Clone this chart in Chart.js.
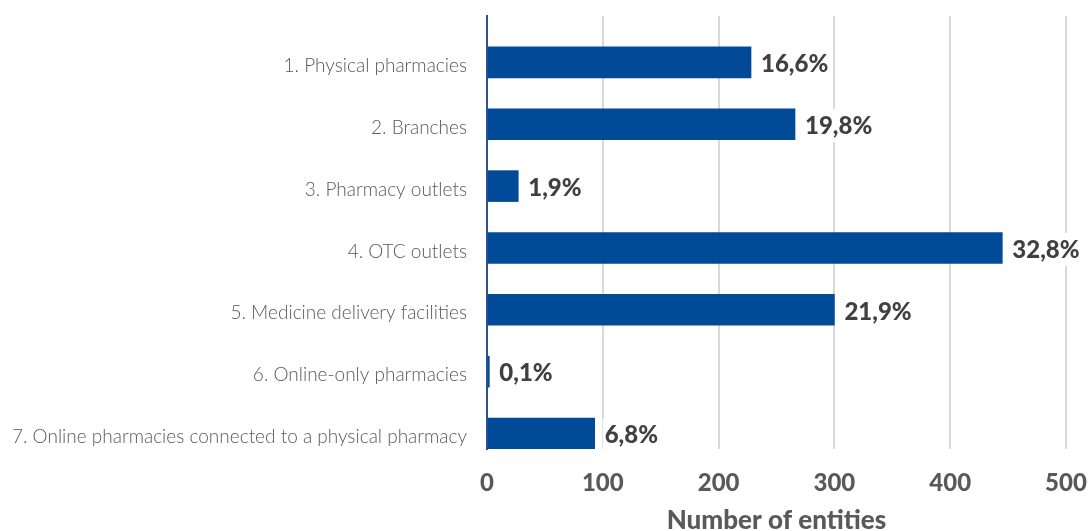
<!DOCTYPE html>
<html>
<head>
<meta charset="utf-8">
<script src="https://cdn.jsdelivr.net/npm/chart.js@4"></script>
<style>
  html, body { margin: 0; padding: 0; background: #fff; }
  #wrap { width: 1091px; height: 531px; }
</style>
</head>
<body>
<div id="wrap"><canvas id="chart"></canvas></div>
<script>
'use strict';

// categories and values
const categories = [
    '1. Physical pharmacies',
    '2. Branches',
    '3. Pharmacy outlets',
    '4. OTC outlets',
    '5. Medicine delivery facilities',
    '6. Online-only pharmacies',
    '7. Online pharmacies connected to a physical pharmacy'
];
const entities = [228, 266, 27, 445, 300, 2, 93];
const shares = ['16,6%', '19,8%', '1,9%', '32,8%', '21,9%', '0,1%', '6,8%'];
const xTicks = [0, 100, 200, 300, 400, 500];

const barColor = '#004a98';

// draws the share label to the right of each bar, on a white box
const shareLabels = {
    id: 'shareLabels',
    afterDatasetsDraw(chart) {
        const ctx = chart.ctx;
        const meta = chart.getDatasetMeta(1);
        ctx.save();
        ctx.font = '900 24px Lato';
        ctx.textBaseline = 'middle';
        ctx.textAlign = 'left';
        meta.data.forEach((bar, i) => {
            const txt = shares[i];
            const x = bar.x + 10;
            const w = ctx.measureText(txt).width;
            ctx.fillStyle = '#fff';
            ctx.fillRect(x - 2, bar.y - 15, w + 6, 33);
            ctx.fillStyle = '#404040';
            ctx.fillText(txt, x, bar.y + 2);
        });
        ctx.restore();
    }
};

new Chart(document.getElementById('chart'), {
    type: 'bar',
    data: {
        labels: categories,
        datasets: [
            { label: '', data: categories.map(() => null), backgroundColor: barColor },
            { label: 'Number of entities', data: entities, backgroundColor: barColor }
        ]
    },
    options: {
        indexAxis: 'y',
        responsive: true,
        maintainAspectRatio: false,
        animation: false,
        layout: { padding: { top: 16, right: 25, bottom: 0, left: 0 } },
        datasets: { bar: { categoryPercentage: 1, barPercentage: 1 } },
        scales: {
            x: {
                min: 0,
                max: 500,
                afterBuildTicks(scale) {
                    scale.ticks = xTicks.map(v => ({ value: v }));
                },
                afterFit(scale) {
                    scale.height = 82;
                    scale.paddingLeft = 0;
                    scale.paddingRight = 0;
                },
                grid: { color: '#d9d9d9', lineWidth: 2, drawTicks: false },
                border: { display: false },
                ticks: {
                    padding: 20,
                    color: '#595959',
                    font: { family: 'Lato', weight: 900, size: 24 }
                },
                title: {
                    display: true,
                    text: 'Number of entities',
                    color: '#595959',
                    font: { family: 'Lato', weight: 900, size: 26, lineHeight: 0.77 },
                    padding: { top: 0, bottom: 0 }
                }
            },
            y: {
                afterFit(scale) {
                    scale.width = 487;
                    scale.paddingTop = 0;
                    scale.paddingBottom = 0;
                },
                grid: { display: false, drawTicks: false },
                border: { display: true, color: '#2f528f', width: 2 },
                ticks: {
                    padding: 20,
                    labelOffset: 19,
                    color: '#595959',
                    font: { family: 'Lato', weight: 300, size: 19 }
                }
            }
        },
        plugins: {
            legend: { display: false },
            tooltip: { enabled: false }
        }
    },
    plugins: [shareLabels]
});
</script>
</body>
</html>
